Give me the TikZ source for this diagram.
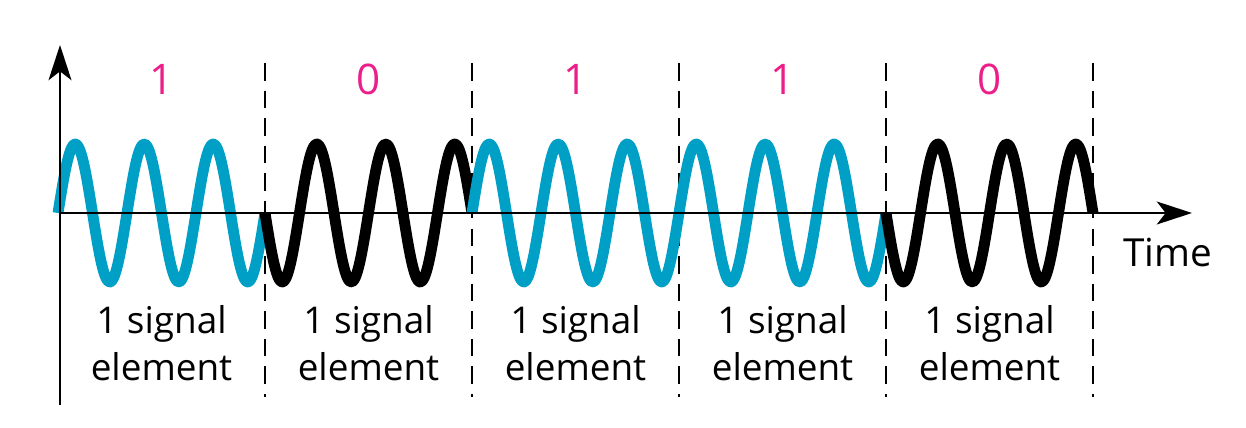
\documentclass[tikz,border=0pt]{standalone}
\usepackage{fontspec}
\setmainfont{Open Sans}
\usepackage{tikz}
\usetikzlibrary{arrows.meta}
\definecolor{wavecyan}{RGB}{0,160,198}
\definecolor{bitpink}{RGB}{236,30,138}

\tikzset{
  axisline/.style={line width=1.6pt, -{Stealth[length=20pt, width=13pt, inset=5pt]}},
  boundary/.style={line width=1.1pt, dash pattern=on 10pt off 5.7pt},
  wave/.style={line width=6.2pt, line join=round},
  bitlabel/.style={text=bitpink, font=\fontsize{24}{28}\selectfont},
  elemlabel/.style={align=center, inner sep=0pt, font=\fontsize{21}{26.7}\selectfont},
}

\begin{document}
\begin{tikzpicture}[x=0.02cm, y=-0.02cm]
  \useasboundingbox (0,0) rectangle (1246,428);
  % axes
  \coordinate (origin) at (60,213);
  \coordinate (ybot) at (60,405);
  \coordinate (ytop) at (60,45);
  \coordinate (xtip) at (1192,213);
  % element boundaries
  \foreach \k in {1,...,5} {
    \coordinate (bt\k) at ({58+207*\k},63);
    \coordinate (bb\k) at ({58+207*\k},397);
    \draw[boundary] (bt\k) -- (bb\k);
  }
  % carrier, one element per bit
  \foreach \s/\c [count=\i from 0] in {1/wavecyan, -1/black, 1/wavecyan, 1/wavecyan, -1/black} {
    \draw[wave, \c] plot[domain=0:207, samples=120, smooth]
      ({58+207*\i+\x}, {213-\s*69*sin(5.21739*\x)});
  }
  \draw[axisline] (ybot) -- (ytop);
  \draw[axisline] (origin) -- (xtip);
  \node[anchor=base west, inner sep=0pt, font=\fontsize{22}{26}\selectfont] (time) at (1123,267) {Time};
  % bits and element labels
  \foreach \b [count=\i from 0] in {1,0,1,1,0} {
    \node[bitlabel] (bit\i) at ({161.5+207*\i},79) {\b};
    \node[elemlabel] (elem\i) at ({161.5+207*\i},343) {1 signal\\element};
  }
\end{tikzpicture}
\end{document}
